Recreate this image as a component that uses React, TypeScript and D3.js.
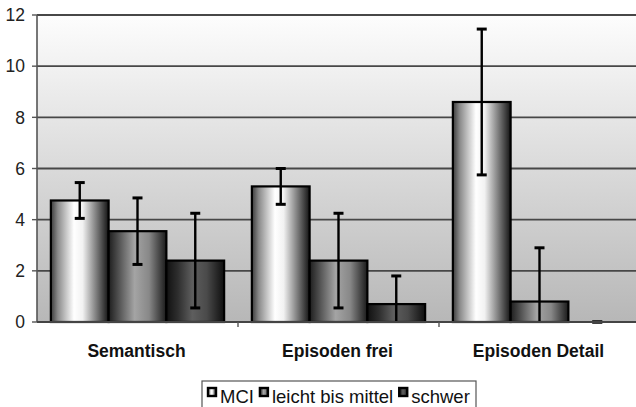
import * as React from "react"
import * as d3 from "d3"

const categories = ["Semantisch", "Episoden frei", "Episoden Detail"]
const seriesNames = ["MCI", "leicht bis mittel", "schwer"]

// mean values per series, in category order
const mciValues = [4.75, 5.3, 8.6]
const leichtValues = [3.55, 2.4, 0.8]
const schwerValues = [2.4, 0.7, 0]

// error bar half widths
const mciErrors = [0.7, 0.7, 2.85]
const leichtErrors = [1.3, 1.85, 2.1]
const schwerErrors = [1.85, 1.1, 0]

const yTicks = [0, 2, 4, 6, 8, 10, 12]

const values = [mciValues, leichtValues, schwerValues]
const errors = [mciErrors, leichtErrors, schwerErrors]

const width = 636
const height = 407
const margin = { top: 15, right: -4, bottom: 85, left: 37 }

const gradIds = ["gMci", "gLeicht", "gSchwer"]
const fontFamily = "'Liberation Sans', Arial, sans-serif"

function measure(text: string, font: string) {
  const c = document.createElement("canvas").getContext("2d")
  if (!c) return text.length * 8
  c.font = font
  return c.measureText(text).width
}

export default function App(): React.JSX.Element {
  const x0 = d3
    .scaleBand()
    .domain(categories)
    .range([margin.left, width - margin.right])
    .paddingInner(0)
    .paddingOuter(0)

  const x1 = d3
    .scaleBand()
    .domain(seriesNames)
    .range([0, x0.bandwidth()])
    .paddingInner(0)
    .paddingOuter(0.24)

  const y = d3
    .scaleLinear()
    .domain([0, 12])
    .range([height - margin.bottom, margin.top])

  const bars = categories.flatMap((cat, ci) =>
    seriesNames.map((s, si) => ({
      cat,
      s,
      si,
      value: values[si][ci],
      err: errors[si][ci],
    }))
  )

  // legend layout
  const legendFont = `18.5px ${fontFamily}`
  const legendLeft = 202
  const legendRight = 476
  let cursor = legendLeft + 5
  const legendItems = seriesNames.map((name, i) => {
    const item = { name, i, mx: cursor, tx: cursor + 13 }
    cursor = item.tx + measure(name, legendFont) + 5
    return item
  })

  const y0 = y(0)

  return (
    <svg
      width={width}
      height={height}
      style={{ position: "absolute", left: 0, top: 0, background: "#fff" }}
      fontFamily={fontFamily}
    >
      <defs>
        <linearGradient id="bgGrad" x1="0" y1="0" x2="0" y2="1">
          <stop offset="0" stopColor="#fdfdfd" />
          <stop offset="1" stopColor="#b7b7b7" />
        </linearGradient>
        <linearGradient id="gMci" x1="0" y1="0" x2="1" y2="0">
          <stop offset="0" stopColor="#3a3a3a" />
          <stop offset="0.12" stopColor="#8a8a8a" />
          <stop offset="0.4" stopColor="#ffffff" />
          <stop offset="0.55" stopColor="#f2f2f2" />
          <stop offset="0.85" stopColor="#5e5e5e" />
          <stop offset="1" stopColor="#141414" />
        </linearGradient>
        <linearGradient id="gLeicht" x1="0" y1="0" x2="1" y2="0">
          <stop offset="0" stopColor="#1e1e1e" />
          <stop offset="0.15" stopColor="#4a4a4a" />
          <stop offset="0.45" stopColor="#a4a4a4" />
          <stop offset="0.7" stopColor="#888" />
          <stop offset="1" stopColor="#1a1a1a" />
        </linearGradient>
        <linearGradient id="gSchwer" x1="0" y1="0" x2="1" y2="0">
          <stop offset="0" stopColor="#111" />
          <stop offset="0.2" stopColor="#2e2e2e" />
          <stop offset="0.45" stopColor="#5e5e5e" />
          <stop offset="0.7" stopColor="#4a4a4a" />
          <stop offset="1" stopColor="#0e0e0e" />
        </linearGradient>
      </defs>

      {/* plot background */}
      <rect
        x={margin.left}
        y={margin.top}
        width={width - margin.left}
        height={y0 - margin.top}
        fill="url(#bgGrad)"
      />

      {/* gridlines */}
      {yTicks
        .filter((t) => t > 0)
        .map((t) => (
          <line
            key={t}
            x1={margin.left}
            x2={width}
            y1={y(t)}
            y2={y(t)}
            stroke="#474747"
            strokeWidth={1.8}
          />
        ))}

      {/* bars */}
      {bars.map((b) => {
        const bx = (x0(b.cat) ?? 0) + (x1(b.s) ?? 0)
        const bw = x1.bandwidth()
        if (b.value <= 0) return null
        return (
          <rect
            key={b.cat + b.s}
            x={bx}
            y={y(b.value)}
            width={bw}
            height={y0 - y(b.value)}
            fill={`url(#${gradIds[b.si]})`}
            stroke="#000"
            strokeWidth={2.2}
          />
        )
      })}

      {/* error bars */}
      {bars.map((b) => {
        const cx = (x0(b.cat) ?? 0) + (x1(b.s) ?? 0) + x1.bandwidth() / 2
        const hi = b.value + b.err
        const lo = Math.max(0, b.value - b.err)
        return (
          <g key={"e" + b.cat + b.s} stroke="#000" strokeWidth={2.4}>
            <line x1={cx} x2={cx} y1={y(hi)} y2={y(lo)} />
            <line x1={cx - 5} x2={cx + 5} y1={y(hi)} y2={y(hi)} strokeWidth={3} />
            {b.value - b.err >= 0 && (
              <line x1={cx - 5} x2={cx + 5} y1={y(lo)} y2={y(lo)} strokeWidth={3} />
            )}
          </g>
        )
      })}

      {/* axes */}
      <line
        x1={margin.left}
        x2={margin.left}
        y1={margin.top}
        y2={y0}
        stroke="#555"
        strokeWidth={1.6}
      />
      <line x1={margin.left} x2={width} y1={y0} y2={y0} stroke="#444" strokeWidth={1.8} />
      {yTicks.map((t) => (
        <g key={"yt" + t}>
          <line
            x1={margin.left - 5}
            x2={margin.left}
            y1={y(t)}
            y2={y(t)}
            stroke="#555"
            strokeWidth={1.4}
          />
          <text
            x={margin.left - 12}
            y={y(t)}
            dy="0.36em"
            textAnchor="end"
            fontSize={17.5}
            fill="#222"
          >
            {t}
          </text>
        </g>
      ))}
      {categories.map((c, i) => (
        <g key={c}>
          {i > 0 && (
            <line
              x1={x0(c)}
              x2={x0(c)}
              y1={y0}
              y2={y0 + 5}
              stroke="#555"
              strokeWidth={1.4}
            />
          )}
          <text
            x={(x0(c) ?? 0) + x0.bandwidth() / 2 - 1}
            y={y0 + 35}
            textAnchor="middle"
            fontSize={17.5}
            fontWeight="bold"
            fill="#111"
          >
            {c}
          </text>
        </g>
      ))}

      {/* legend */}
      <rect
        x={legendLeft}
        y={381}
        width={legendRight - legendLeft}
        height={30}
        fill="#fff"
        stroke="#555"
        strokeWidth={1.2}
      />
      {legendItems.map((it) => (
        <g key={it.name}>
          <rect
            x={it.mx + 1}
            y={388}
            width={8}
            height={8}
            fill={`url(#${gradIds[it.i]})`}
            stroke="#000"
            strokeWidth={2.4}
          />
          <text x={it.tx} y={403} fontSize={18.5} fill="#111">
            {it.name}
          </text>
        </g>
      ))}
    </svg>
  )
}
